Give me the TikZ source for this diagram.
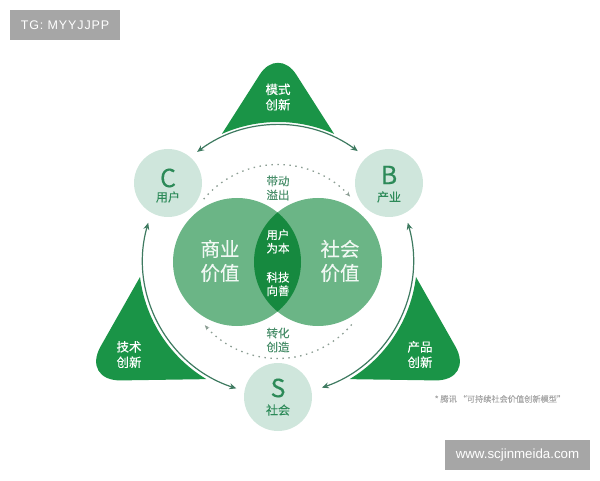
\documentclass[tikz,border=0pt]{standalone}
\usepackage{fontspec}
\setmainfont{Noto Sans CJK SC}[FakeBold=0.2]
\newfontfamily\markfont{Liberation Sans}
\usetikzlibrary{calc,arrows.meta}
\definecolor{wedgegreen}{HTML}{1A9447}
\definecolor{lensgreen}{HTML}{16893F}
\definecolor{valuegreen}{HTML}{6BB586}
\definecolor{palegreen}{HTML}{CFE6DC}
\definecolor{arcgreen}{HTML}{3E7A60}
\definecolor{inkgreen}{HTML}{2C8A58}
\definecolor{dotgray}{HTML}{8C9E94}
\definecolor{notegreen}{HTML}{4A8F6B}
\definecolor{markgray}{HTML}{A6A6A6}
\tikzset{
	wedge/.style={fill=wedgegreen},
	cyclearc/.style={line width=1.2pt, color=arcgreen, {Stealth[length=7pt,width=6pt]}-{Stealth[length=7pt,width=6pt]}},
	flowarc/.style={line width=1.3pt, color=dotgray, dash pattern=on 1.5pt off 4.5pt, -{Stealth[length=5pt,width=4pt]}},
	actor/.style={circle, fill=palegreen, minimum size=68pt, inner sep=0pt},
	value/.style={circle, fill=valuegreen, minimum size=128pt, inner sep=0pt},
	wedgetext/.style={align=center, text=white, font=\fontsize{12.5}{15.5}\selectfont},
	valuetext/.style={align=center, text=white!90!valuegreen, font=\fontsize{19.5}{24}\selectfont},
	lenstext/.style={align=center, text=white, font=\fontsize{11.5}{13.5}\selectfont},
	notetext/.style={align=center, text=notegreen, font=\fontsize{11.5}{14}\selectfont},
	letter/.style={text=inkgreen, font=\fontsize{25}{25}\selectfont},
	role/.style={text=inkgreen, font=\fontsize{12}{14}\selectfont},
	markbox/.style={fill=markgray, text=white, inner sep=0pt, font=\markfont}
}
\begin{document}
\begin{tikzpicture}[x=1pt, y=1pt]
	\useasboundingbox (0, 0) rectangle (600, 480);
	\coordinate (hub) at (278, 220);
	\coordinate (flowhub) at (278, 218.5);

	%%%%% wedges %%%%%
	\fill[wedge] ($(hub)+(114:138pt)$) [rounded corners=34pt] -- (278, 434) [sharp corners] -- ($(hub)+(66:138pt)$) arc (66:114:138pt) -- cycle;
	\fill[wedge] ($(hub)+(187:139pt)$) [rounded corners=40pt] -- (81, 99) [sharp corners] -- ($(hub)+(239:139pt)$) arc (239:187:139pt) -- cycle;
	\fill[wedge] ($(hub)+(-7:139pt)$) [rounded corners=40pt] -- (475, 99) [sharp corners] -- ($(hub)+(-59:139pt)$) arc (-59:-7:139pt) -- cycle;

	%%%%% cycle arcs %%%%%
	\draw[cyclearc] ($(hub)+(126.8:135pt)$) arc (126.8:53.8:135pt);
	\draw[cyclearc] ($(hub)+(164:135pt)$) arc (164:252:135pt);
	\draw[cyclearc] ($(hub)+(16:135pt)$) arc (16:-71:135pt);

	%%%%% dotted flows %%%%%
	\draw[flowarc] ($(flowhub)+(140:97pt)$) arc (140:42:97pt);
	\draw[flowarc] ($(flowhub)+(-40.5:97pt)$) arc (-40.5:-139:97pt);

	%%%%% circles %%%%%
	\node[actor] (userc) at (168, 297) {};
	\node[actor] (industryb) at (389, 297) {};
	\node[actor] (societys) at (278, 83) {};
	\node[value] (bizvalue) at (237, 218) {};
	\node[value] (socvalue) at (318, 218) {};
	\begin{scope}
		\clip (237, 218) circle (64);
		\fill[lensgreen] (318, 218) circle (64);
	\end{scope}

	%%%%% labels %%%%%
	\node[wedgetext] (topwedge) at (278, 383) {模式\\创新};
	\node[wedgetext] (leftwedge) at (129, 125.5) {技术\\创新};
	\node[wedgetext] (rightwedge) at (420, 125.5) {产品\\创新};

	\node[letter] (letterc) at (168, 302) {C};
	\node[role] (rolec) at (168, 283) {用户};
	\node[letter] (letterb) at (389, 305) {B};
	\node[role] (roleb) at (389, 283) {产业};
	\node[letter] (letters) at (278, 92) {S};
	\node[role] (roles) at (278, 70) {社会};

	\node[valuetext] (biztext) at (220, 219) {商业\\价值};
	\node[valuetext] (soctext) at (340, 219) {社会\\价值};
	\node[lenstext] (lensup) at (278, 238.5) {用户\\为本};
	\node[lenstext] (lensdown) at (278, 196) {科技\\向善};
	\node[notetext] (flowup) at (278, 292) {带动\\溢出};
	\node[notetext] (flowdown) at (278, 140) {转化\\创造};

	\node[text=gray!70, font=\fontsize{8.2}{10}\selectfont] (source) at (500, 81) {* 腾讯 “可持续社会价值创新模型”};

	%%%%% watermarks %%%%%
	\node[markbox, minimum width=110pt, minimum height=30pt, font=\markfont\addfontfeature{LetterSpace=7}\fontsize{12.5}{14}\selectfont] (tgmark) at (65, 455) {TG: MYYJJPP};
	\node[markbox, minimum width=145pt, minimum height=30pt, font=\markfont\fontsize{13.3}{15}\selectfont] (webmark) at (517.5, 25) {www.scjinmeida.com};
\end{tikzpicture}
\end{document}
